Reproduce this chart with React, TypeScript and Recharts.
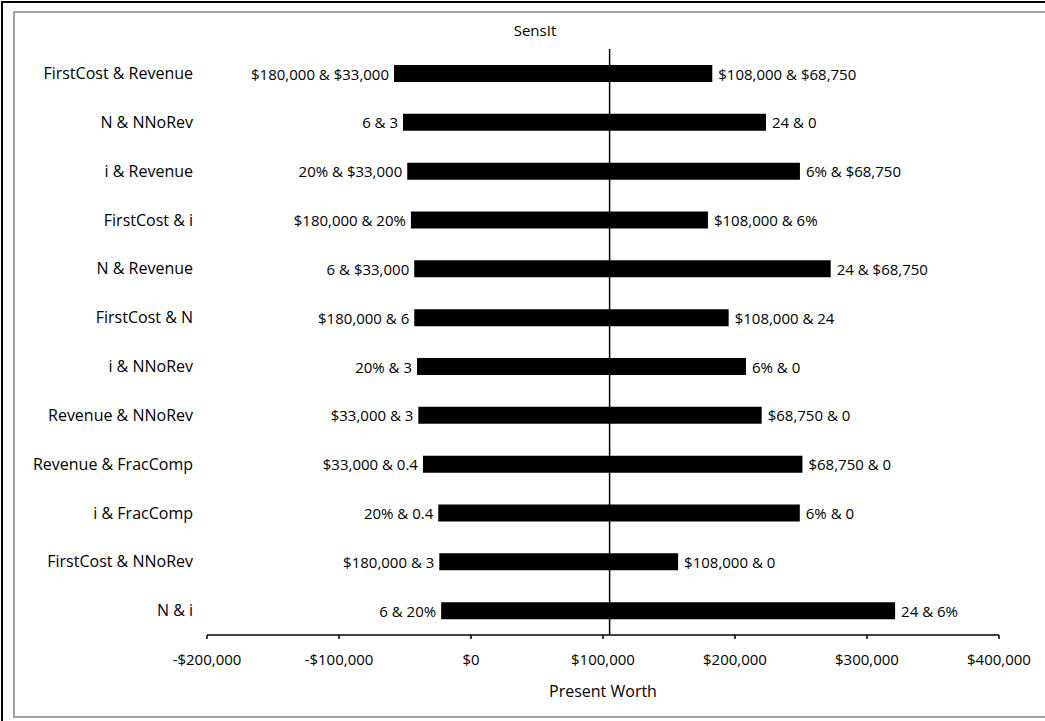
import React from "react";
import { BarChart, Bar, XAxis, YAxis, ReferenceLine, LabelList } from "recharts";

const categories = [
  "FirstCost & Revenue",
  "N & NNoRev",
  "i & Revenue",
  "FirstCost & i",
  "N & Revenue",
  "FirstCost & N",
  "i & NNoRev",
  "Revenue & NNoRev",
  "Revenue & FracComp",
  "i & FracComp",
  "FirstCost & NNoRev",
  "N & i",
];

const lowValues = [-58300, -51500, -48300, -45500, -43000, -43000, -40900, -39900, -36400, -24800, -24000, -22600];
const highValues = [182800, 223500, 249200, 179500, 272500, 195200, 208300, 220200, 251100, 249100, 156900, 321300];

const lowLabels = [
  "$180,000 & $33,000",
  "6 & 3",
  "20% & $33,000",
  "$180,000 & 20%",
  "6 & $33,000",
  "$180,000 & 6",
  "20% & 3",
  "$33,000 & 3",
  "$33,000 & 0.4",
  "20% & 0.4",
  "$180,000 & 3",
  "6 & 20%",
];
const highLabels = [
  "$108,000 & $68,750",
  "24 & 0",
  "6% & $68,750",
  "$108,000 & 6%",
  "24 & $68,750",
  "$108,000 & 24",
  "6% & 0",
  "$68,750 & 0",
  "$68,750 & 0",
  "6% & 0",
  "$108,000 & 0",
  "24 & 6%",
];

const xTicks = [-200000, -100000, 0, 100000, 200000, 300000, 400000];
const baseValue = 105000;

const data = categories.map((name, i) => ({
  name,
  range: [lowValues[i], highValues[i]],
  lowLabel: lowLabels[i],
  highLabel: highLabels[i],
}));

const FONT = "'Open Sans', sans-serif";

const fmtMoney = (v: number) => {
  const s = "$" + Math.abs(v).toLocaleString("en-US");
  return v < 0 ? "-" + s : s;
};

const renderLabels = (props: any) => {
  const { x, y, width, height, index } = props;
  const cy = Number(y) + Number(height) / 2;
  const x0 = Number(x);
  const x1 = Number(x) + Number(width);
  const d = data[index];
  return (
    <g>
      <text x={x0 - 5} y={cy} textAnchor="end" dominantBaseline="central" fontSize={15} fontFamily={FONT} fill="#000">
        {d.lowLabel}
      </text>
      <text x={x1 + 6} y={cy} textAnchor="start" dominantBaseline="central" fontSize={15} fontFamily={FONT} fill="#000">
        {d.highLabel}
      </text>
    </g>
  );
};

export default function App() {
  return (
    <div
      style={{
        position: "absolute",
        left: 0,
        top: 0,
        width: 1045,
        height: 721,
        overflow: "hidden",
        background: "#fff",
        fontFamily: FONT,
      }}
    >
      <div
        style={{
          position: "absolute",
          left: 1,
          top: 1,
          width: 1044,
          height: 720,
          borderTop: "2px solid #000",
          borderLeft: "2px solid #000",
          boxSizing: "border-box",
        }}
      />
      <div
        style={{
          position: "absolute",
          left: 13,
          top: 11,
          width: 1032,
          height: 707,
          borderTop: "2px solid #a0a0a0",
          borderLeft: "2px solid #a0a0a0",
          borderBottom: "2px solid #a0a0a0",
          boxSizing: "border-box",
        }}
      />
      <div
        style={{
          position: "absolute",
          left: 435,
          width: 200,
          top: 19,
          textAlign: "center",
          fontSize: 15,
          color: "#000",
          lineHeight: "22px",
        }}
      >
        SensIt
      </div>
      <div
        style={{
          position: "absolute",
          left: 503,
          width: 200,
          top: 680,
          textAlign: "center",
          fontSize: 16,
          color: "#000",
          lineHeight: "22px",
        }}
      >
        Present Worth
      </div>
      <div style={{ position: "absolute", left: 0, top: 0 }}>
        <BarChart
          width={1045}
          height={721}
          data={data}
          layout="vertical"
          margin={{ top: 49, right: 46, bottom: 26, left: 7 }}
          barCategoryGap={0}
        >
          <XAxis
            type="number"
            domain={[-200000, 400000]}
            ticks={xTicks}
            tickFormatter={fmtMoney}
            allowDataOverflow
            height={60}
            axisLine={{ stroke: "#000", strokeWidth: 1.5 }}
            tickLine={{ stroke: "#000", strokeWidth: 1.5 }}
            tickSize={4}
            tickMargin={15}
            tick={{ fontSize: 15, fontFamily: FONT, fill: "#000" }}
          />
          <YAxis
            type="category"
            dataKey="name"
            width={200}
            axisLine={false}
            tickLine={false}
            tickSize={6}
            tickMargin={8}
            interval={0}
            tick={{ fontSize: 16, fontFamily: FONT, fill: "#000" }}
          />
          <Bar dataKey="range" fill="#000" barSize={17} isAnimationActive={false}>
            <LabelList dataKey="range" content={renderLabels} />
          </Bar>
          <ReferenceLine x={baseValue} stroke="#000" strokeWidth={1.5} />
        </BarChart>
      </div>
    </div>
  );
}
